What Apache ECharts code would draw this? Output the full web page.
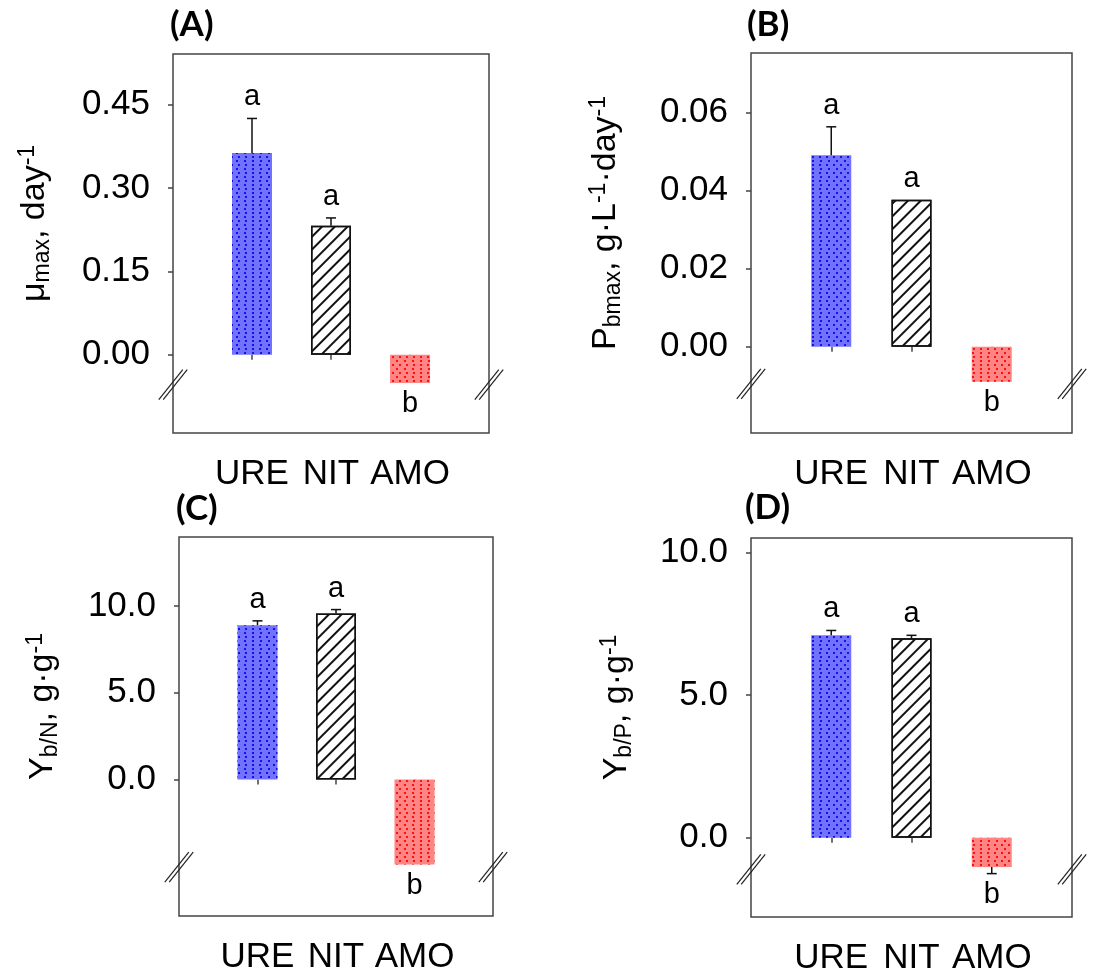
<!DOCTYPE html>
<html>
<head>
<meta charset="utf-8">
<script src="https://cdn.jsdelivr.net/npm/echarts@6/dist/echarts.min.js"></script>
<style>
  html, body { margin: 0; padding: 0; background: #fff; }
  #chart { width: 1110px; height: 980px; }
</style>
</head>
<body>
<div id="chart"></div>
<script>
const categories = ['URE', 'NIT', 'AMO'];

// (A) maximum specific growth rate
const muMax = [0.363, 0.232, -0.051];
const muMaxErr = [0.062, 0.014, 0];
const muMaxLetters = ['a', 'a', 'b'];
const muMaxTicks = [0, 0.15, 0.30, 0.45];

// (B) maximum biomass productivity
const pbMax = [0.049, 0.0376, -0.009];
const pbMaxErr = [0.0073, 0, 0];
const pbMaxLetters = ['a', 'a', 'b'];
const pbMaxTicks = [0, 0.02, 0.04, 0.06];

// (C) biomass yield on nitrogen
const ybN = [8.89, 9.56, -4.9];
const ybNErr = [0.25, 0.23, 0];
const ybNLetters = ['a', 'a', 'b'];
const ybNTicks = [0, 5, 10];

// (D) biomass yield on phosphorus
const ybP = [7.09, 6.99, -1.03];
const ybPErr = [0.17, 0.10, 0.23];
const ybPLetters = ['a', 'a', 'b'];
const ybPTicks = [0, 5, 10];

// axis ranges and where the "//" break marks sit
const axisMin = [-0.141, -0.0221, -7.86, -2.78];
const axisMax = [0.541, 0.0752, 13.97, 10.5];
const axisBreaks = [-0.054, -0.0095, -5.05, -1.11];

const FONT = '"Liberation Sans", Arial, sans-serif';
const FRAME = '#444';

const panels = [
  { tag: '(A)', values: muMax, errs: muMaxErr, letters: muMaxLetters, ticks: muMaxTicks, digits: 2,
    name: '{t|μ}{sub|max}{t|, day}{sup|-1}',
    left: 173, top: 54, width: 316, height: 379, nameGap: 119, tagLeft: 170, tagTop: 7 },
  { tag: '(B)', values: pbMax, errs: pbMaxErr, letters: pbMaxLetters, ticks: pbMaxTicks, digits: 2,
    name: '{t|P}{sub|bmax}{t|, g·L}{sup|-1}{t|·day}{sup|-1}',
    left: 751, top: 53, width: 321, height: 380, nameGap: 126, tagLeft: 747, tagTop: 7 },
  { tag: '(C)', values: ybN, errs: ybNErr, letters: ybNLetters, ticks: ybNTicks, digits: 1,
    name: '{t|Y}{sub|b/N}{t|, g·g}{sup|-1}',
    left: 179, top: 537, width: 314, height: 379, nameGap: 117, tagLeft: 176, tagTop: 491 },
  { tag: '(D)', values: ybP, errs: ybPErr, letters: ybPLetters, ticks: ybPTicks, digits: 1,
    name: '{t|Y}{sub|b/P}{t|, g·g}{sup|-1}',
    left: 751, top: 538, width: 321, height: 379, nameGap: 115, tagLeft: 745, tagTop: 490 }
];

// fill per category: dotted blue, hatched white, dotted red
const barStyles = [
  { color: '#7272ff',
    decal: { symbol: 'rect', color: '#1212f0', symbolSize: 1,
             dashArrayX: [[1.6, 4.6], [0, 3.1, 1.6, 1.5]], dashArrayY: [1.6, 1.5] } },
  { color: '#fff', borderColor: '#111', borderWidth: 1.5,
    decal: { symbol: 'rect', color: '#111', symbolSize: 1,
             dashArrayX: [1, 0], dashArrayY: [1.2, 6.7], rotation: -Math.PI / 4 } },
  { color: '#ff8484',
    decal: { symbol: 'rect', color: '#ff1010', symbolSize: 1,
             dashArrayX: [[1.6, 4.6], [0, 3.1, 1.6, 1.5]], dashArrayY: [1.6, 1.5] } }
];

const chart = echarts.init(document.getElementById('chart'));

const grid = [], xAxis = [], yAxis = [], series = [], title = [];

panels.forEach((p, i) => {
  grid.push({
    left: p.left, top: p.top, width: p.width, height: p.height,
    show: true, borderColor: FRAME, borderWidth: 1.5, backgroundColor: 'transparent'
  });
  title.push({
    text: p.tag, left: p.tagLeft, top: p.tagTop, padding: 0,
    textStyle: { fontFamily: 'Lato, "Open Sans", sans-serif', fontWeight: 'bold', fontSize: 35, color: '#000' }
  });
  xAxis.push({
    gridIndex: i, type: 'category', boundaryGap: false,
    data: [''].concat(categories, ['']),
    axisLine: { show: false },
    axisTick: { show: true, length: 5, interval: (idx) => idx > 0 && idx <= categories.length,
                lineStyle: { color: FRAME, width: 1.5 } },
    axisLabel: { interval: 0, fontSize: 35, fontFamily: FONT, color: '#000', margin: 24 },
    splitLine: { show: false }
  });
  yAxis.push({
    gridIndex: i, type: 'value', min: axisMin[i], max: axisMax[i],
    axisLine: { show: false },
    axisTick: { show: true, length: 5, customValues: p.ticks, lineStyle: { color: FRAME, width: 1.5 } },
    axisLabel: { customValues: p.ticks, formatter: (v) => v.toFixed(p.digits),
                 fontSize: 35, fontFamily: FONT, color: '#000', margin: 23 },
    splitLine: { show: false },
    name: p.name, nameLocation: 'middle', nameGap: p.nameGap,
    nameTextStyle: {
      fontSize: 34, fontFamily: FONT, color: '#000', padding: [0, 0, 0, 40],
      rich: {
        t: { fontSize: 34, fontFamily: FONT, color: '#000', lineHeight: 38 },
        sub: { fontSize: 23, fontFamily: FONT, color: '#000', lineHeight: 17, verticalAlign: 'bottom' },
        sup: { fontSize: 23, fontFamily: FONT, color: '#000', lineHeight: 17, verticalAlign: 'top' }
      }
    }
  });

  series.push({
    type: 'bar', xAxisIndex: i, yAxisIndex: i, barWidth: 40, silent: true,
    data: ['-'].concat(p.values.map((v, k) => ({ value: v, itemStyle: barStyles[k] })), ['-'])
  });

  // error bars and significance letters
  series.push({
    type: 'custom', xAxisIndex: i, yAxisIndex: i, silent: true, z: 5,
    data: p.values.map((v, k) => [k + 1, v, p.errs[k]]),
    renderItem: (params, api) => {
      const x = api.value(0), v = api.value(1), e = api.value(2);
      const dir = v >= 0 ? 1 : -1;
      const base = api.coord([x, v]);
      const tip = api.coord([x, v + dir * e]);
      const children = [];
      if (e > 0) {
        children.push({ type: 'line', shape: { x1: base[0], y1: base[1], x2: tip[0], y2: tip[1] },
                        style: { stroke: '#111', lineWidth: 1.5 } });
        children.push({ type: 'line', shape: { x1: tip[0] - 5, y1: tip[1], x2: tip[0] + 5, y2: tip[1] },
                        style: { stroke: '#111', lineWidth: 1.5 } });
      }
      children.push({ type: 'text', x: tip[0], y: tip[1] - dir * 21,
                      style: { text: p.letters[params.dataIndex], fontSize: 29, fontFamily: FONT,
                               fill: '#000', align: 'center', verticalAlign: 'middle' } });
      return { type: 'group', children };
    }
  });
});

chart.setOption({ animation: false, backgroundColor: '#fff', title, grid, xAxis, yAxis, series });

// "//" axis-break marks on both sides of each frame
const graphic = [];
panels.forEach((p, i) => {
  const y = chart.convertToPixel({ gridIndex: i }, [1, axisBreaks[i]])[1];
  [p.left, p.left + p.width].forEach((x) => {
    [-2.2, 2.2].forEach((off) => {
      graphic.push({
        type: 'line', silent: true, z: 10,
        shape: { x1: x + off - 12, y1: y + 15, x2: x + off + 12, y2: y - 15 },
        style: { stroke: '#222', lineWidth: 1.2 }
      });
    });
  });
});
chart.setOption({ graphic });
</script>
</body>
</html>
